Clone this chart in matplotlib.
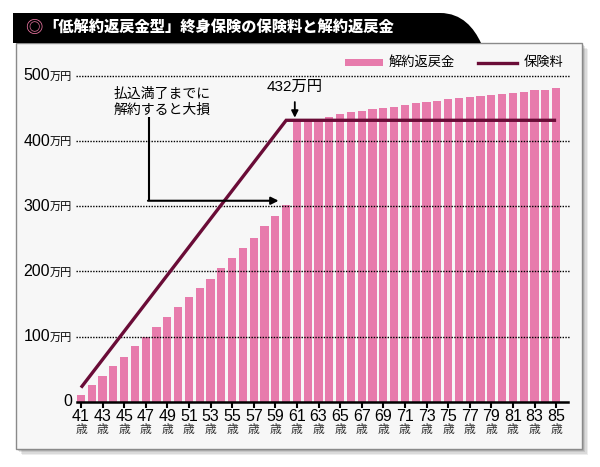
import matplotlib
matplotlib.use("Agg")
import matplotlib.pyplot as plt
from matplotlib.patches import Rectangle, PathPatch
from matplotlib.path import Path
from matplotlib.lines import Line2D

# ---- data ----
ages = list(range(41, 86))
surrender_value = [10, 25, 39, 55, 69, 85, 100, 114, 130, 145,
                   160, 175, 189, 205, 220, 236, 252, 269, 285, 302,
                   432, 433, 434, 437, 442, 444, 446, 449, 451, 453,
                   455, 458, 460, 462, 464, 466, 468, 469, 471, 473,
                   474, 476, 478, 479, 481]
premium_ages = [41, 60, 85]
premium_total = [21.6, 432, 432]
tick_ages = list(range(41, 86, 2))
y_ticks = [0, 100, 200, 300, 400, 500]
title = "「低解約返戻金型」終身保険の保険料と解約返戻金"
legend_labels = ["解約返戻金", "保険料"]
note_text = "払込満了までに\n解約すると大損"
peak_label = "432万円"

PINK = "#E77BAC"
MAROON = "#6A0C37"
JP = ["Noto Sans CJK JP", "DejaVu Sans"]
NUM = ["Liberation Sans Narrow", "Liberation Sans", "Noto Sans CJK JP"]

W, H = 600, 467
fig = plt.figure(figsize=(6, 4.67), dpi=100)
fig.patch.set_facecolor("white")


def fx(x):
    return x / W


def fy(y):
    return 1 - y / H


# panel shadow
for i, a in enumerate([0.10, 0.12, 0.15, 0.2]):
    off = 6 - i * 1.3
    fig.patches.append(Rectangle((fx(16 + off), fy(449 + off)), fx(566), 1 - fy(406),
                                 transform=fig.transFigure, facecolor="#555555",
                                 edgecolor="none", alpha=a, zorder=0))
# panel
fig.patches.append(Rectangle((fx(16), fy(449)), fx(566), 1 - fy(406),
                             transform=fig.transFigure, facecolor="#f7f7f7",
                             edgecolor="#8a8a8a", linewidth=1.0, zorder=1))

# title bar with curved right end
verts = [(fx(13), fy(13)), (fx(440), fy(13)),
         (fx(462), fy(13)), (fx(474), fy(28)), (fx(481), fy(43)),
         (fx(13), fy(43)), (fx(13), fy(13))]
codes = [Path.MOVETO, Path.LINETO, Path.CURVE4, Path.CURVE4, Path.CURVE4,
         Path.LINETO, Path.CLOSEPOLY]
fig.patches.append(PathPatch(Path(verts, codes), transform=fig.transFigure,
                             facecolor="black", edgecolor="none", zorder=2))
fig.text(fx(25), fy(28.5), "◎", color="#E7739F", fontsize=12.5, fontweight="bold",
         family=JP, va="center", ha="left", zorder=3)
fig.text(fx(43), fy(28.5), title, color="white", fontsize=11, fontweight="heavy",
         family=JP, va="center", ha="left", zorder=3)

# axes
ax_l, ax_r, ax_b, ax_t = 77, 568, 401.7, 76
ax = fig.add_axes([fx(ax_l), fy(ax_b), fx(ax_r - ax_l), fy(ax_t) - fy(ax_b)])
ax.set_facecolor("none")
ax.set_zorder(5)
ax.set_xlim(40.63, 86.1)
ax.set_ylim(0, 500)
for s in ["top", "right", "left"]:
    ax.spines[s].set_visible(False)
ax.spines["bottom"].set_linewidth(1.8)
ax.spines["bottom"].set_color("black")
ax.set_yticks([])
ax.set_xticks(tick_ages)
ax.set_xticklabels([])
ax.tick_params(axis="x", length=4, width=1.5, color="black", direction="out")

ax.bar(ages, surrender_value, width=0.76, color=PINK, zorder=2)

# dotted gridlines (over bars)
ytr = ax.get_yaxis_transform()
for v in y_ticks[1:]:
    ax.plot([-0.003, 1.004], [v, v], transform=ytr, color="black", lw=1.0,
            linestyle=(0, (1, 1)), zorder=3, clip_on=False)

ax.plot(premium_ages, premium_total, color=MAROON, lw=2.4, zorder=4,
        solid_capstyle="butt", solid_joinstyle="miter")

# y labels
for v in y_ticks:
    if v == 0:
        ax.annotate("0", xy=(0, v), xycoords=ytr, xytext=(-5, 0),
                    textcoords="offset pixels", ha="right", va="center",
                    fontsize=11.5, family=NUM, annotation_clip=False)
    else:
        ax.annotate("万円", xy=(0, v), xycoords=ytr, xytext=(-5, -1),
                    textcoords="offset pixels", ha="right", va="center",
                    fontsize=8, family=JP, annotation_clip=False)
        ax.annotate(str(v), xy=(0, v), xycoords=ytr, xytext=(-27, 0),
                    textcoords="offset pixels", ha="right", va="center",
                    fontsize=11.5, family=NUM, annotation_clip=False)

# x labels
xtr = ax.get_xaxis_transform()
for a in tick_ages:
    ax.annotate(str(a), xy=(a, 0), xycoords=xtr, xytext=(0, -15),
                textcoords="offset pixels", ha="center", va="center",
                fontsize=11.5, family=NUM, annotation_clip=False)
    ax.annotate("歳", xy=(a, 0), xycoords=xtr, xytext=(0, -28),
                textcoords="offset pixels", ha="center", va="center",
                fontsize=8.5, family=JP, color="#333333", annotation_clip=False)

# annotations
ax.text(60.8, 483, peak_label, ha="center", va="center", fontsize=11,
        family=NUM + JP, zorder=6)
ax.annotate("", xy=(60.8, 436), xytext=(60.8, 460),
            arrowprops=dict(arrowstyle="-|>", color="black", lw=1.3,
                            mutation_scale=10, shrinkA=0, shrinkB=0), zorder=6)
ax.text(48.5, 460, note_text, ha="center", va="center", fontsize=10,
        family=JP, linespacing=1.15, zorder=6)
ax.plot([47.3, 47.3], [437, 308.5], color="black", lw=1.5, zorder=6,
        solid_capstyle="butt")
ax.annotate("", xy=(59.3, 308.5), xytext=(47.2, 308.5),
            arrowprops=dict(arrowstyle="-|>", color="black", lw=1.5,
                            mutation_scale=11, shrinkA=0, shrinkB=0), zorder=6)

# legend (manual)
fig.patches.append(Rectangle((fx(345), fy(66)), fx(38), 1 - fy(7),
                             transform=fig.transFigure, facecolor=PINK,
                             edgecolor="none", zorder=6))
fig.text(fx(389), fy(62.5), legend_labels[0], fontsize=9.5, family=JP,
         va="center", ha="left", zorder=6)
fig.lines.append(Line2D([fx(478), fx(517)], [fy(62.5), fy(62.5)],
                        transform=fig.transFigure, color=MAROON, lw=2.4, zorder=6))
fig.text(fx(524), fy(62.5), legend_labels[1], fontsize=9.5, family=JP,
         va="center", ha="left", zorder=6)

fig.savefig("out.png", dpi=100)
